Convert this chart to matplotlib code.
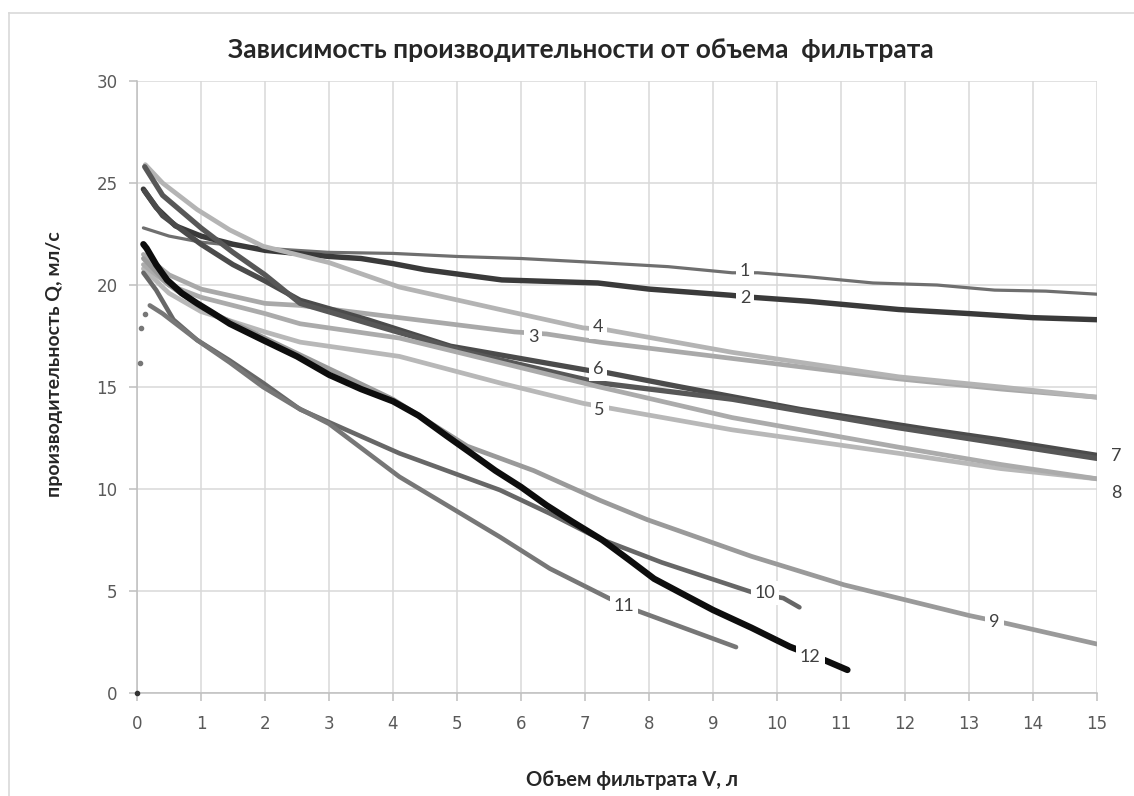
import matplotlib
matplotlib.use('Agg')
import matplotlib.pyplot as plt
from matplotlib.lines import Line2D

# ── Data ────────────────────────────────────────────────────────────────
V1 = [0.1, 0.5, 1, 2, 3, 4, 5, 6, 7.2, 8.3, 9.3, 9.7, 10.5, 11.5, 12.5, 13.4, 14.2, 15]
Q1 = [22.8, 22.4, 22.1, 21.8, 21.6, 21.55, 21.4, 21.3, 21.1, 20.9, 20.6, 20.6, 20.4, 20.1, 20.0, 19.75, 19.7, 19.55]

V2 = [0.1, 0.3, 0.6, 1, 1.5, 2, 3, 3.5, 4.0, 4.5, 5.7, 7.2, 8, 9.27, 9.6, 10.5, 11.9, 13, 14, 15]
Q2 = [24.7, 23.8, 22.9, 22.4, 22.0, 21.7, 21.4, 21.3, 21.05, 20.75, 20.25, 20.1, 19.8, 19.5, 19.4, 19.2, 18.8, 18.6, 18.4, 18.3]

V3 = [0.1, 0.5, 1, 2, 2.55, 4.1, 5.9, 6.4, 7.23, 9.3, 11.9, 13.5, 15]
Q3 = [21.5, 20.5, 19.8, 19.1, 19.0, 18.4, 17.7, 17.6, 17.2, 16.4, 15.4, 14.9, 14.5]

V4 = [0.13, 0.4, 0.94, 1.45, 1.97, 3.0, 4.1, 5.67, 6.97, 7.35, 9.3, 11.9, 13.5, 15]
Q4 = [25.9, 25.0, 23.7, 22.7, 21.9, 21.1, 19.9, 18.8, 17.9, 17.8, 16.7, 15.5, 15.0, 14.5]

V5 = [0.1, 0.5, 1, 2, 2.55, 4.1, 5.67, 6.97, 7.5, 9.3, 11.9, 13.5, 15]
Q5 = [20.8, 19.6, 18.7, 17.7, 17.2, 16.5, 15.2, 14.2, 13.9, 12.9, 11.75, 11.0, 10.5]

V6 = [0.12, 0.4, 1, 1.5, 2, 2.55, 3.6, 4.9, 7.08, 7.35, 8.5, 10.36, 12.4, 13.5, 15]
Q6 = [24.6, 23.4, 22.0, 21.0, 20.2, 19.25, 18.3, 17.0, 15.8, 15.7, 15.0, 13.9, 12.9, 12.4, 11.65]

V7 = [0.12, 0.4, 1, 1.5, 2, 2.55, 3.85, 5.16, 7.23, 9.3, 11.9, 15]
Q7 = [25.8, 24.4, 22.8, 21.6, 20.5, 19.1, 17.9, 16.7, 15.2, 14.4, 13.0, 11.5]

V8 = [0.1, 0.5, 1, 2, 2.55, 4.1, 5.67, 7.23, 9.3, 11.9, 13.5, 15]
Q8 = [21.0, 20.0, 19.4, 18.6, 18.1, 17.4, 16.2, 15.0, 13.5, 12.05, 11.2, 10.5]

V9 = [0.1, 0.5, 1, 2, 3, 4, 5.16, 6.2, 7.23, 7.97, 9.6, 11.05, 13.0, 13.6, 15]
Q9 = [21.3, 20.0, 18.9, 17.4, 15.9, 14.4, 12.1, 10.9, 9.45, 8.5, 6.7, 5.3, 3.8, 3.4, 2.4]

V10 = [0.1, 0.3, 0.57, 0.94, 1.45, 1.97, 2.55, 4.1, 5.67, 6.45, 7.2, 8.2, 9.6, 10.1, 10.35]
Q10 = [20.6, 19.75, 18.3, 17.3, 16.3, 15.2, 13.9, 11.75, 9.95, 8.8, 7.6, 6.4, 4.95, 4.65, 4.2]

V11 = [0.2, 0.4, 0.94, 1.45, 1.97, 2.5, 3.0, 4.1, 5.67, 6.45, 7.37, 7.8, 9.36]
Q11 = [19.0, 18.6, 17.3, 16.2, 15.0, 14.0, 13.2, 10.6, 7.65, 6.1, 4.65, 4.05, 2.25]
V11_start = [0.05, 0.07, 0.12]
Q11_start = [16.2, 17.9, 18.6]

V12 = [0.1, 0.15, 0.3, 0.47, 0.7, 0.94, 1.2, 1.45, 1.97, 2.5, 3.0, 3.5, 4.0, 4.4, 4.84,
       5.2, 5.6, 6.0, 6.4, 6.8, 7.27, 7.7, 8.08, 8.5, 9.0, 9.6, 10.2, 10.75, 11.1]
Q12 = [22.0, 21.8, 21.0, 20.25, 19.6, 19.1, 18.6, 18.1, 17.3, 16.5, 15.6, 14.9, 14.3, 13.6, 12.6,
       11.8, 10.9, 10.1, 9.2, 8.4, 7.5, 6.5, 5.6, 4.9, 4.07, 3.2, 2.27, 1.6, 1.13]

series_V = [V1, V2, V3, V4, V5, V6, V7, V8, V9, V10, V11, V12]
series_Q = [Q1, Q2, Q3, Q4, Q5, Q6, Q7, Q8, Q9, Q10, Q11, Q12]
colors = ['#6f6f6f', '#3a3a3a', '#a9a9a9', '#b4b4b4', '#b8b8b8', '#4b4b4b',
          '#575757', '#ababab', '#9a9a9a', '#676767', '#777777', '#0d0d0d']
widths = [2.3, 3.9, 3.4, 3.4, 3.4, 3.8, 3.8, 3.4, 3.4, 3.3, 3.3, 4.6]

label_text = ['1', '2', '3', '4', '5', '6', '7', '8', '9', '10', '11', '12']
label_V = [9.5, 9.5, 6.19, 7.2, 7.23, 7.2, 15.3, 15.3, 13.4, 9.81, 7.61, 10.52]
label_Q = [20.7, 19.35, 17.45, 17.94, 13.87, 15.9, 11.6, 9.8, 3.5, 4.9, 4.26, 1.77]

# ── Figure ──────────────────────────────────────────────────────────────
fig = plt.figure(figsize=(11.34, 7.96), dpi=100)
ax = fig.add_axes([0.1208, 0.1294, 0.8466, 0.7688])

for v, q, c, lw in zip(series_V, series_Q, colors, widths):
    ax.plot(v, q, color=c, linewidth=lw, solid_capstyle='round',
            solid_joinstyle='round', zorder=3)

ax.plot(V11_start, Q11_start, 'o', color='#777777', markersize=3, zorder=3)
ax.plot([0], [0], 'o', color='#333333', markersize=3, zorder=4, clip_on=False)

for t, x, y in zip(label_text, label_V, label_Q):
    ax.text(x, y, t, fontsize=13, color='#404040', ha='center', va='center',
            family='Lato', zorder=5, clip_on=False,
            bbox=dict(boxstyle='square,pad=0.22', facecolor='white',
                      edgecolor='none') if x < 15 else None)

ax.set_xlim(0, 15)
ax.set_ylim(0, 30)
ax.set_xticks(range(0, 16))
ax.set_yticks(range(0, 31, 5))
ax.grid(True, color='#d9d9d9', linewidth=1.1, zorder=0)
ax.set_axisbelow(True)
for s in ['top', 'right']:
    ax.spines[s].set_visible(False)
for s in ['left', 'bottom']:
    ax.spines[s].set_color('#bfbfbf')
    ax.spines[s].set_linewidth(1.1)
ax.tick_params(axis='both', colors='#bfbfbf', length=6, width=1.1,
               labelcolor='#595959', labelsize=12)
ax.tick_params(axis='x', pad=10)
ax.tick_params(axis='y', pad=8)

fig.text(0.512, 1 - 50 / 796, 'Зависимость производительности от объема  фильтрата',
         ha='center', va='center', fontsize=19, fontweight='bold',
         family='Lato', color='#262626')
fig.text(0.557, 1 - 780 / 796, 'Объем фильтрата V, л', ha='center', va='center',
         fontsize=14.5, fontweight='bold', family='Lato', color='#262626')
fig.text(55 / 1134, 1 - 364 / 796, 'производительность Q, мл/с', ha='center',
         va='center', rotation=90, fontsize=14, fontweight='bold',
         family='Lato', color='#262626')

# chart-area border
fig.add_artist(Line2D([9 / 1134, 9 / 1134], [0, 1 - 13 / 796], color='#d9d9d9', linewidth=1.2))
fig.add_artist(Line2D([9 / 1134, 1], [1 - 13 / 796, 1 - 13 / 796], color='#d9d9d9', linewidth=1.2))

fig.savefig('out.png', dpi=100, facecolor='white')
